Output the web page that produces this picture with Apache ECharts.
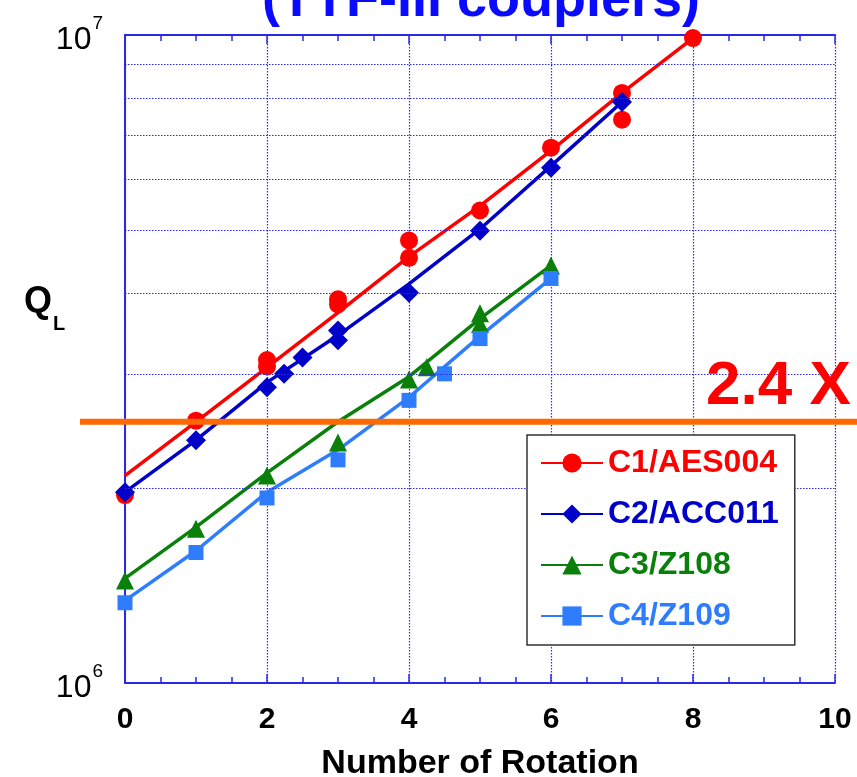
<!DOCTYPE html>
<html>
<head>
<meta charset="utf-8">
<script src="https://cdn.jsdelivr.net/npm/echarts@6/dist/echarts.min.js"></script>
<style>
  html, body { margin: 0; padding: 0; background: #ffffff; overflow: hidden; }
  #chart { width: 857px; height: 777px; }
</style>
</head>
<body>
<div id="chart"></div>
<script>
// Loaded Q versus number of coupler rotations, four cavities
const seriesNames = ['C1/AES004', 'C2/ACC011', 'C3/Z108', 'C4/Z109'];
const seriesColors = ['#ff0000', '#0000c8', '#0a800a', '#2f7dff'];
const seriesSymbols = ['circle', 'diamond', 'triangle', 'rect'];
const symbolSizes = [18, 20, 18, 15];

// measured points
const c1Rot = [0, 1, 2, 2, 3, 3, 4, 4, 5, 6, 7, 7, 8];
const c1Q = [1.95e6, 2.54e6, 3.15e6, 3.08e6, 3.91e6, 3.84e6, 4.82e6, 4.53e6, 5.36e6, 6.70e6, 8.14e6, 7.40e6, 9.89e6];
const c2Rot = [0, 1, 2, 2.24, 2.5, 3, 3, 4, 5, 6, 7];
const c2Q = [1.97e6, 2.37e6, 2.86e6, 3.00e6, 3.18e6, 3.50e6, 3.38e6, 4.00e6, 4.99e6, 6.24e6, 7.88e6];
const c3Rot = [0, 1, 2, 3, 4, 4.25, 5, 5, 6];
const c3Q = [1.44e6, 1.73e6, 2.09e6, 2.35e6, 2.94e6, 3.07e6, 3.72e6, 3.58e6, 4.41e6];
const c4Rot = [0, 1, 2, 3, 4, 4.5, 5, 6];
const c4Q = [1.33e6, 1.59e6, 1.93e6, 2.21e6, 2.73e6, 3.00e6, 3.40e6, 4.21e6];

// trend lines
const c1TrendRot = [0, 1, 2, 3, 4, 5, 6, 7, 8];
const c1TrendQ = [2.09e6, 2.53e6, 3.07e6, 3.73e6, 4.55e6, 5.45e6, 6.63e6, 8.14e6, 9.89e6];
const c2TrendRot = [0, 1, 2, 3, 4, 5, 6, 7];
const c2TrendQ = [1.97e6, 2.37e6, 2.91e6, 3.44e6, 4.13e6, 5.02e6, 6.28e6, 7.88e6];
const c3TrendRot = [0, 1, 2, 3, 4, 5, 6];
const c3TrendQ = [1.45e6, 1.74e6, 2.11e6, 2.53e6, 2.97e6, 3.65e6, 4.41e6];
const c4TrendRot = [0, 1, 2, 3, 4, 5, 6];
const c4TrendQ = [1.34e6, 1.60e6, 1.97e6, 2.29e6, 2.76e6, 3.43e6, 4.21e6];

// axis ranges, grid lines, threshold
const rotMin = 0, rotMax = 10, rotStep = 2;
const qMin = 1e6, qMax = 1e7;
const qGridLines = [2e6, 3e6, 4e6, 5e6, 6e6, 7e6, 8e6, 9e6];
const thresholdQ = 2.53e6;
const thresholdLabel = '2.4 X';
const titleText = '(TTF-III couplers)';
const xTitle = 'Number of Rotation';

const axisBlue = '#2a2ae6';
const fontFam = '"Liberation Sans", Arial, sans-serif';

const pointSets = [[c1Rot, c1Q], [c2Rot, c2Q], [c3Rot, c3Q], [c4Rot, c4Q]];
const trendSets = [[c1TrendRot, c1TrendQ], [c2TrendRot, c2TrendQ], [c3TrendRot, c3TrendQ], [c4TrendRot, c4TrendQ]];
const zip = (a, b) => a.map((v, i) => [v, b[i]]);

const series = [];
trendSets.forEach((s, i) => {
  series.push({
    name: seriesNames[i],
    type: 'line',
    data: zip(s[0], s[1]),
    showSymbol: false,
    symbol: seriesSymbols[i],
    symbolSize: symbolSizes[i],
    itemStyle: { color: seriesColors[i] },
    lineStyle: { color: seriesColors[i], width: 3.5 },
    z: 3,
    silent: true
  });
});
pointSets.forEach((s, i) => {
  series.push({
    name: seriesNames[i] + ' pts',
    type: 'scatter',
    data: zip(s[0], s[1]),
    symbol: seriesSymbols[i],
    symbolSize: symbolSizes[i],
    itemStyle: { color: seriesColors[i], opacity: 1 },
    z: 4
  });
});
// dotted Q grid lines
series.push({
  name: 'qgrid',
  type: 'line',
  data: [],
  markLine: {
    silent: true,
    symbol: ['none', 'none'],
    label: { show: false },
    lineStyle: { color: axisBlue, type: [1.5, 1.5], width: 1.2 },
    data: qGridLines.map(v => ({ yAxis: v }))
  }
});

const supLabel = v => {
  const e = Math.round(Math.log10(v));
  return '{b|10}{s|' + e + '}';
};

const chart = echarts.init(document.getElementById('chart'));
const xCommon = {
  type: 'value', min: rotMin, max: rotMax, interval: rotStep,
  axisLine: { show: true, lineStyle: { color: axisBlue, width: 2 } },
  axisTick: { show: true, inside: true, length: 9, lineStyle: { color: axisBlue, width: 1.5 } },
  minorTick: { show: true, splitNumber: 4, length: 6, lineStyle: { color: axisBlue, width: 1.5 } }
};
const yCommon = {
  type: 'log', logBase: 10, min: qMin, max: qMax,
  axisLine: { show: true, lineStyle: { color: axisBlue, width: 2 } },
  axisTick: { show: false },
  splitLine: { show: false }
};
const legendRich = {};
seriesNames.forEach((n, i) => {
  legendRich['c' + i] = { color: seriesColors[i], fontFamily: fontFam, fontWeight: 'bold', fontSize: 32, lineHeight: 32 };
});
chart.setOption({
  animation: false,
  backgroundColor: '#ffffff',
  grid: { left: 125, right: 22, top: 35, bottom: 94, containLabel: false, outerBoundsMode: 'none' },
  xAxis: [
    Object.assign({}, xCommon, {
      position: 'bottom',
      name: xTitle, nameLocation: 'middle', nameGap: 64,
      nameTextStyle: { fontFamily: fontFam, fontWeight: 'bold', fontSize: 34, color: '#000' },
      axisLabel: { color: '#000', fontFamily: fontFam, fontWeight: 'bold', fontSize: 30, margin: 22 },
      splitLine: { show: true, lineStyle: { color: axisBlue, type: [1.5, 1.5], width: 1.2 } }
    }),
    Object.assign({}, xCommon, {
      position: 'top',
      axisLabel: { show: false },
      splitLine: { show: false }
    })
  ],
  yAxis: [
    Object.assign({}, yCommon, {
      position: 'left',
      axisLabel: {
        formatter: supLabel, margin: 22,
        rich: {
          b: { fontFamily: fontFam, fontSize: 32, color: '#000', lineHeight: 42, verticalAlign: 'bottom' },
          s: { fontFamily: fontFam, fontSize: 19, color: '#000', lineHeight: 42, verticalAlign: 'top', padding: [0, 0, 0, 1] }
        }
      }
    }),
    Object.assign({}, yCommon, { position: 'right', axisLabel: { show: false } })
  ],
  legend: {
    data: seriesNames,
    orient: 'vertical',
    left: 527, top: 435,
    padding: [12, 16, 13, 13],
    itemWidth: 62, itemHeight: 24, itemGap: 19,
    backgroundColor: '#ffffff',
    borderColor: '#333333', borderWidth: 1.5,
    selectedMode: false,
    textStyle: { fontFamily: fontFam, fontWeight: 'bold', fontSize: 32, lineHeight: 32, rich: legendRich },
    formatter: n => '{c' + seriesNames.indexOf(n) + '|' + n + '}',
    z: 6
  },
  series: series
});

// threshold line across the full width, plus annotations
const yThr = chart.convertToPixel({ yAxisIndex: 0 }, thresholdQ);
chart.setOption({
  graphic: [
    {
      type: 'line', z: 10,
      shape: { x1: 80, y1: yThr, x2: 857, y2: yThr },
      style: { stroke: '#ff6a00', lineWidth: 6 }
    },
    {
      type: 'text', z: 10, left: 706, top: yThr - 66,
      style: { text: thresholdLabel, fill: '#ff0000', font: 'bold 62px ' + fontFam }
    },
    {
      type: 'text', z: 10, x: 481, y: 28,
      style: { text: titleText, fill: '#0a0aff', font: 'bold 54px ' + fontFam, textAlign: 'center', textVerticalAlign: 'bottom' }
    },
    {
      type: 'text', z: 10, left: 24, top: 284,
      style: {
        text: '{q|Q}{l|L}',
        rich: {
          q: { font: 'bold 36px ' + fontFam, fill: '#000', lineHeight: 40 },
          l: { font: 'bold 20px ' + fontFam, fill: '#000', lineHeight: 40, verticalAlign: 'bottom', padding: [0, 0, -12, 1] }
        }
      }
    }
  ]
});
</script>
</body>
</html>
